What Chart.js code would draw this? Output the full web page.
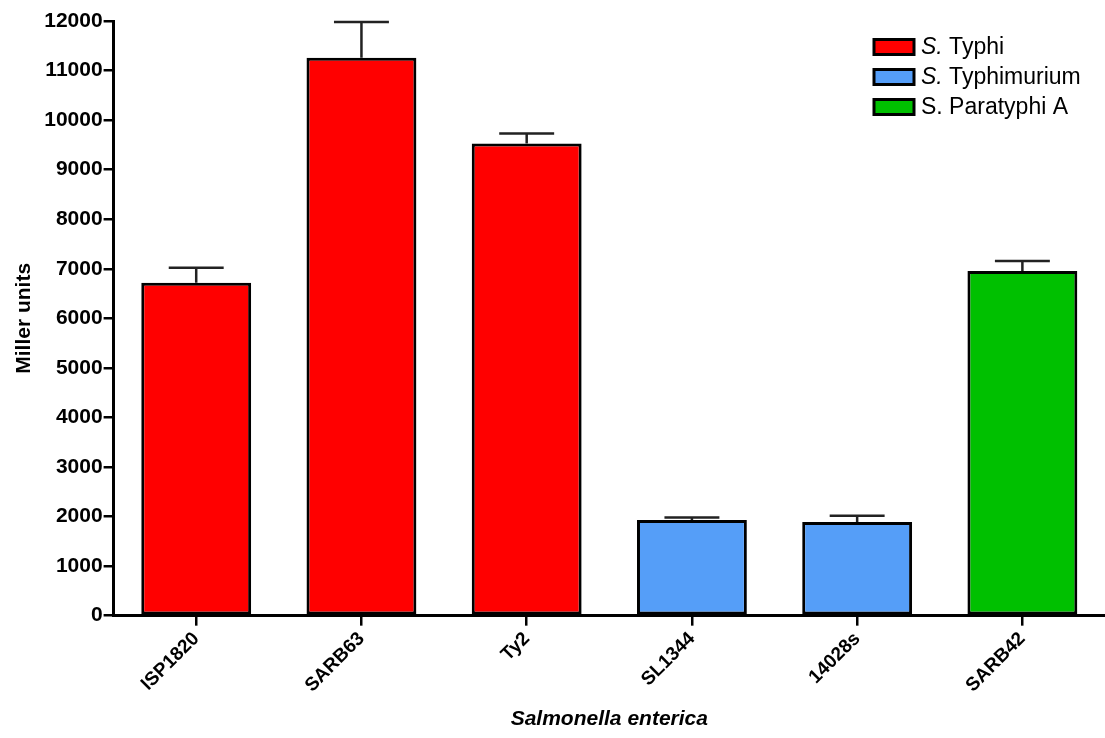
<!DOCTYPE html>
<html>
<head>
<meta charset="utf-8">
<title>Miller units</title>
<script src="https://cdn.jsdelivr.net/npm/chart.js@4.4.1/dist/chart.umd.min.js"></script>
<style>
  html, body { margin: 0; padding: 0; background: #fff; overflow: hidden; }
  #wrap { width: 1105px; height: 738px; }
</style>
</head>
<body>
<div id="wrap"><canvas id="myChart"></canvas></div>
<script>
// strains and values
const strains = ['ISP1820', 'SARB63', 'Ty2', 'SL1344', '14028s', 'SARB42'];
const millerUnits = [6720, 11260, 9530, 1930, 1890, 6955];
const errorUp = [300, 720, 200, 50, 125, 200];
const serotype = [0, 0, 0, 1, 1, 2];

const serotypeNames = [['S.', ' Typhi'], ['S.', ' Typhimurium'], ['S. Paratyphi A', '']];
const serotypeColors = ['#ff0000', '#559ef8', '#00c000'];

const yTicks = [0, 1000, 2000, 3000, 4000, 5000, 6000, 7000, 8000, 9000, 10000, 11000, 12000];

// upper error bars
const errorBars = {
  id: 'errorBars',
  afterDatasetsDraw(chart) {
    const ctx = chart.ctx;
    const y = chart.scales.y;
    const meta = chart.getDatasetMeta(0);
    ctx.save();
    ctx.strokeStyle = '#222';
    ctx.lineWidth = 2.5;
    meta.data.forEach((bar, i) => {
      const top = y.getPixelForValue(millerUnits[i]);
      const end = y.getPixelForValue(millerUnits[i] + errorUp[i]);
      const half = bar.width / 4;
      ctx.beginPath();
      ctx.moveTo(bar.x, top);
      ctx.lineTo(bar.x, end);
      ctx.moveTo(bar.x - half, end);
      ctx.lineTo(bar.x + half, end);
      ctx.stroke();
    });
    ctx.restore();
  }
};

// legend with italic genus letter
const serotypeLegend = {
  id: 'serotypeLegend',
  afterDraw(chart) {
    const ctx = chart.ctx;
    const x0 = 874, y0 = 47, row = 30;
    ctx.save();
    ctx.textBaseline = 'middle';
    serotypeNames.forEach((parts, i) => {
      const yy = y0 + i * row;
      ctx.fillStyle = serotypeColors[i];
      ctx.fillRect(x0, yy - 7.5, 40, 15);
      ctx.strokeStyle = '#000';
      ctx.lineWidth = 3;
      ctx.strokeRect(x0, yy - 7.5, 40, 15);
      ctx.fillStyle = '#000';
      let tx = x0 + 47;
      ctx.font = (i < 2 ? 'italic ' : '') + '23px Arial, "Liberation Sans"';
      ctx.fillText(parts[0], tx, yy + 1);
      tx += ctx.measureText(parts[0]).width;
      ctx.font = '23px Arial, "Liberation Sans"';
      ctx.fillText(parts[1], tx, yy + 1);
    });
    ctx.restore();
  }
};

const ctx = document.getElementById('myChart');

new Chart(ctx, {
  type: 'bar',
  data: {
    labels: strains,
    datasets: [{
      data: millerUnits,
      backgroundColor: serotype.map(s => serotypeColors[s]),
      borderColor: '#000',
      borderWidth: 3,
      borderSkipped: false,
      barPercentage: 0.665,
      categoryPercentage: 1.0
    }]
  },
  options: {
    responsive: true,
    maintainAspectRatio: false,
    animation: false,
    layout: { padding: { top: 21, right: 0, left: 12, bottom: 6 } },
    plugins: {
      legend: { display: false },
      tooltip: { enabled: false }
    },
    scales: {
      x: {
        offset: true,
        grid: {
          offset: false,
          drawOnChartArea: false,
          drawTicks: true,
          tickLength: 10,
          color: '#000',
          lineWidth: 2.5
        },
        border: { color: '#000', width: 3 },
        ticks: {
          color: '#000',
          maxRotation: 45,
          minRotation: 45,
          padding: 2,
          font: { family: 'Arial, "Liberation Sans"', size: 19, weight: 'bold' }
        },
        title: {
          display: true,
          text: 'Salmonella enterica',
          color: '#000',
          padding: { top: 8, bottom: 0 },
          font: { family: 'Arial, "Liberation Sans"', size: 21, weight: 'bold', style: 'italic' }
        }
      },
      y: {
        min: 0,
        max: 12000,
        afterBuildTicks(axis) {
          axis.ticks = yTicks.map(v => ({ value: v }));
        },
        grid: {
          drawOnChartArea: false,
          drawTicks: true,
          tickLength: 10,
          color: '#000',
          lineWidth: 2.5
        },
        border: { color: '#000', width: 3 },
        ticks: {
          color: '#000',
          padding: 1,
          callback: v => String(v),
          font: { family: 'Arial, "Liberation Sans"', size: 21, weight: 'bold' }
        },
        title: {
          display: true,
          text: 'Miller units',
          color: '#000',
          padding: { top: 0, bottom: 6 },
          font: { family: 'Arial, "Liberation Sans"', size: 21, weight: 'bold' }
        }
      }
    }
  },
  plugins: [errorBars, serotypeLegend]
});
</script>
</body>
</html>
